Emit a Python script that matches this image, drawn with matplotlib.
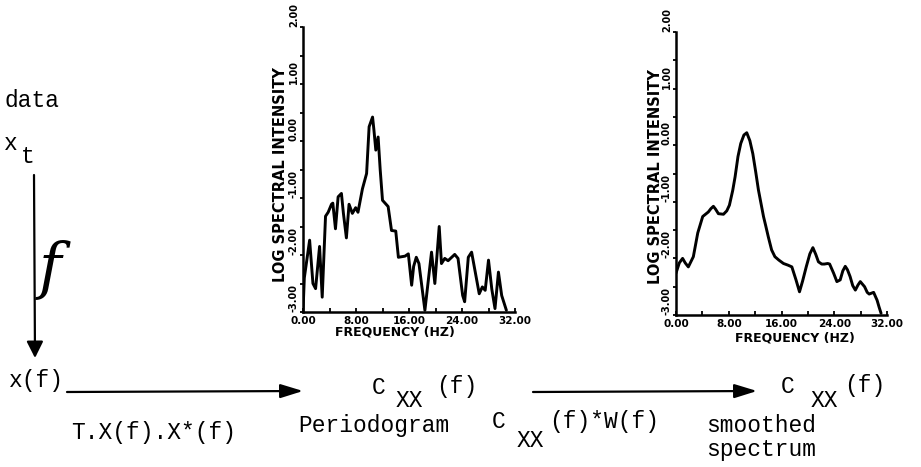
import matplotlib
matplotlib.use("Agg")
import matplotlib.pyplot as plt
from matplotlib.patches import FancyArrowPatch
from matplotlib.ticker import MultipleLocator

# Raw periodogram: frequency (Hz) and log spectral intensity
periodogram_freq = [0.0, 0.2, 1.0, 1.5, 1.9, 2.5, 2.9, 3.4, 3.8, 4.3,
                    4.5, 4.9, 5.3, 5.8, 6.1, 6.55, 6.95, 7.45, 7.95, 8.3,
                    8.97, 9.6, 9.98, 10.5, 10.7, 10.99, 11.34, 11.65, 12.0, 12.85,
                    13.36, 14.0, 14.4, 15.4, 15.9, 16.4, 16.7, 17.1, 17.5, 18.4,
                    19.4, 19.9, 20.56, 20.9, 21.4, 21.9, 22.9, 23.4, 24.1, 24.4,
                    24.95, 25.45, 26.6, 27.07, 27.5, 28.0, 28.5, 28.98, 29.5, 29.99,
                    30.7]
periodogram_level = [-3.00, -2.40, -1.74, -2.50, -2.59, -1.85, -2.74, -1.32, -1.25, -1.11,
                     -1.09, -1.54, -0.98, -0.92, -1.27, -1.70, -1.11, -1.27, -1.17, -1.25,
                     -0.84, -0.57, 0.25, 0.42, 0.20, -0.16, 0.07, -0.50, -1.04, -1.15,
                     -1.57, -1.58, -2.04, -2.02, -1.98, -2.53, -2.20, -2.04, -2.15, -2.97,
                     -1.95, -2.50, -1.50, -2.15, -2.06, -2.10, -1.99, -2.06, -2.71, -2.82,
                     -2.04, -1.95, -2.68, -2.56, -2.62, -2.09, -2.60, -2.94, -2.30, -2.71,
                     -2.97]

# Smoothed spectrum
smoothed_freq = [0.0, 0.5, 1.0, 1.4, 1.87, 2.63, 3.3, 4.05, 4.9, 5.3,
                 5.67, 6.0, 6.43, 7.2, 7.7, 8.1, 8.6, 8.96, 9.4, 9.82,
                 10.3, 10.73, 11.2, 11.65, 12.1, 12.5, 13.27, 13.6, 14.0, 14.5,
                 15.0, 15.6, 16.3, 17.0, 17.57, 18.2, 18.73, 19.2, 19.75, 20.3,
                 20.76, 21.2, 21.6, 22.1, 22.5, 23.0, 23.3, 23.9, 24.4, 24.9,
                 25.3, 25.67, 26.0, 26.4, 26.8, 27.2, 27.6, 27.95, 28.6, 29.0,
                 29.3, 29.97, 30.5, 30.8, 31.1]
smoothed_level = [-2.26, -2.08, -2.00, -2.08, -2.15, -1.97, -1.55, -1.26, -1.18, -1.12,
                  -1.08, -1.13, -1.21, -1.22, -1.16, -1.06, -0.80, -0.56, -0.20, 0.03,
                  0.18, 0.22, 0.08, -0.15, -0.48, -0.79, -1.26, -1.42, -1.62, -1.85,
                  -1.97, -2.03, -2.09, -2.12, -2.15, -2.38, -2.59, -2.40, -2.15, -1.92,
                  -1.81, -1.93, -2.06, -2.10, -2.10, -2.09, -2.10, -2.26, -2.41, -2.38,
                  -2.22, -2.14, -2.20, -2.32, -2.48, -2.56, -2.47, -2.41, -2.50, -2.60,
                  -2.63, -2.60, -2.74, -2.86, -2.97]

freq_ticks = [0, 8, 16, 24, 32]
freq_tick_labels = ["0.00", "8.00", "16.00", "24.00", "32.00"]
level_ticks = [-3, -2, -1, 0, 1, 2]
level_tick_labels = ["-3.00", "-2.00", "-1.00", "0.00", "1.00", "2.00"]
x_title = "FREQUENCY (HZ)"
y_title = "LOG SPECTRAL INTENSITY"

W, H = 921, 467
fig = plt.figure(figsize=(W / 100, H / 100), dpi=100)
fig.patch.set_facecolor("white")


def fx(x):
    return x / W


def fy(y):
    return 1 - y / H


PLOT_FONT = dict(family="DejaVu Sans", weight="bold")


def spectrum_panel(left, right, top, bottom, freq, level, xlab_pos, ylab_pos):
    ax = fig.add_axes([fx(left), fy(bottom), (right - left) / W, (bottom - top) / H])
    ax.plot(freq, level, color="black", lw=2.1, solid_joinstyle="round",
            solid_capstyle="round")
    ax.set_xlim(0, 32)
    ax.set_ylim(-3, 2)
    for side in ("top", "right"):
        ax.spines[side].set_visible(False)
    for side in ("left", "bottom"):
        ax.spines[side].set_linewidth(1.8)
    ax.set_xticks(freq_ticks)
    ax.set_xticklabels(freq_tick_labels, **PLOT_FONT, fontsize=7.5)
    ax.xaxis.set_minor_locator(MultipleLocator(4))
    ax.set_yticks(level_ticks)
    ax.set_yticklabels(level_tick_labels, **PLOT_FONT, fontsize=7,
                       rotation=90, va="bottom")
    ax.yaxis.set_minor_locator(MultipleLocator(0.5))
    ax.tick_params(axis="x", which="both", direction="in", length=3, width=1.3, pad=3)
    ax.tick_params(axis="y", which="both", direction="out", length=2.5, width=1.3, pad=0.5)
    ax.patch.set_alpha(0)
    fig.text(fx(xlab_pos[0]), fy(xlab_pos[1]), x_title, ha="center", va="center",
             fontsize=9, **PLOT_FONT)
    fig.text(fx(ylab_pos[0]), fy(ylab_pos[1]), y_title, ha="center", va="center",
             rotation=90, fontsize=10.5, **PLOT_FONT)
    return ax


spectrum_panel(303, 515, 27, 312, periodogram_freq, periodogram_level,
               (395, 332), (280, 175))
spectrum_panel(676, 887, 32, 315, smoothed_freq, smoothed_level,
               (795, 338), (655, 177))

MONO = dict(family="Liberation Mono", fontsize=16.5, color="black",
            ha="left", va="baseline")


def mono(x, y, s):
    fig.text(fx(x), fy(y), s, **MONO)


mono(4, 107, "data")
mono(4, 150, "x")
mono(21, 163, "t")
mono(9, 387, "x(f)")
mono(71, 439, "T.X(f).X*(f)")
mono(298, 432, "Periodogram")

mono(372, 394, "C")
mono(396, 407, "XX")
mono(436, 393, "(f)")

mono(492, 428, "C")
mono(517, 447, "XX")
mono(549, 428, "(f)*W(f)")

mono(781, 393, "C")
mono(811, 407, "XX")
mono(844, 392, "(f)")

mono(706, 432, "smoothed")
mono(706, 456, "spectrum")

# Fourier transform operator beside the vertical arrow
fig.text(fx(50), fy(270), "f", family="DejaVu Serif", fontsize=44,
         ha="center", va="center", style="italic")


def arrow(x0, y0, x1, y1, style):
    fig.add_artist(FancyArrowPatch((fx(x0), fy(y0)), (fx(x1), fy(y1)),
                                   transform=fig.transFigure, arrowstyle=style,
                                   mutation_scale=25, lw=1.6, color="black",
                                   shrinkA=0, shrinkB=0))


arrow(34, 175, 35, 358, "-|>,head_length=0.4,head_width=0.2")
arrow(67, 392, 303, 391, "-|>,head_length=0.55,head_width=0.17")
arrow(533, 392, 757, 391, "-|>,head_length=0.55,head_width=0.17")

fig.savefig("out.png", dpi=100, facecolor="white")
